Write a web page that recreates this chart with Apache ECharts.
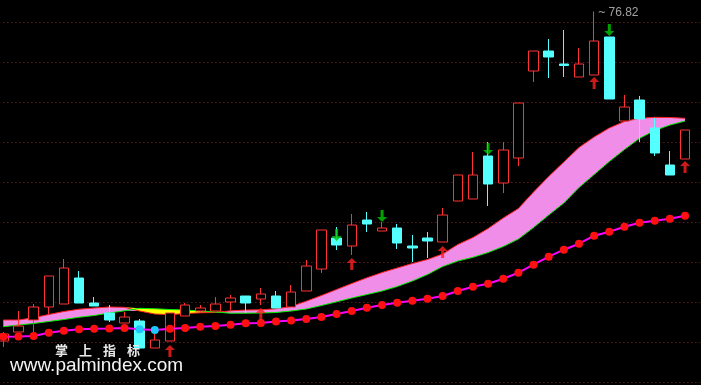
<!DOCTYPE html>
<html><head><meta charset="utf-8">
<script src="https://cdn.jsdelivr.net/npm/echarts@6/dist/echarts.min.js"></script>
<style>html,body{margin:0;padding:0;background:#000;}#c{width:701px;height:385px;}</style>
</head><body><div id="c"></div>
<script>
const categories = ['1','2','3','4','5','6','7','8','9','10','11','12','13','14','15','16','17','18','19','20','21','22','23','24','25','26','27','28','29','30','31','32','33','34','35','36','37','38','39','40','41','42','43','44','45','46','47'];
const openPrices  = [43.87,44.77,45.97,47.27,47.57,50.17,47.67,46.67,45.67,45.87,43.17,43.87,46.37,46.87,46.87,47.77,48.37,48.07,48.37,47.27,48.87,51.07,54.17,53.37,55.97,54.87,55.17,53.37,54.17,53.77,57.87,58.07,62.37,59.67,62.17,70.87,72.87,71.57,70.27,70.47,74.27,65.87,67.97,65.17,61.47,62.07];
const closePrices = [44.57,45.37,47.27,50.37,51.17,47.67,47.37,45.97,46.27,43.17,43.97,46.67,47.47,47.17,47.57,48.17,47.67,48.57,47.17,48.77,51.37,54.97,53.47,55.47,55.57,55.17,53.67,53.17,53.87,56.47,60.47,60.47,59.57,62.97,67.67,72.87,72.27,71.42,71.57,73.87,68.07,67.27,66.07,62.67,60.47,64.97];
const lowPrices   = [43.27,44.77,44.77,46.57,47.57,47.67,47.37,45.77,45.67,43.17,43.17,43.87,46.37,46.67,46.87,46.97,46.67,47.47,47.17,47.27,48.87,50.67,52.97,52.47,54.77,54.87,53.07,51.77,52.17,53.77,57.87,58.07,57.37,58.67,61.37,69.77,70.17,70.27,70.27,70.47,68.07,65.87,63.77,62.37,60.47,62.07];
const highPrices  = [44.77,46.87,47.57,50.37,52.07,50.87,48.27,47.47,46.77,46.07,44.57,46.67,47.67,47.47,48.27,48.47,48.37,49.17,48.87,49.47,51.97,54.97,55.27,56.57,56.77,55.77,55.57,54.47,54.77,57.17,60.47,62.77,63.77,63.77,67.67,72.87,74.07,74.97,73.17,76.82,74.27,68.47,68.37,66.17,62.87,64.97];
// band lines (A = red edge, B = green edge)
const lineA = [45.97,45.97,46.20,46.52,46.82,47.05,47.17,47.27,47.24,46.87,46.57,46.50,46.62,46.69,46.72,46.89,46.97,46.99,47.09,47.32,47.85,48.42,49.02,49.62,50.19,50.72,51.17,51.62,52.02,52.57,53.52,54.22,55.12,56.17,57.12,58.77,60.32,61.77,63.22,64.27,65.17,65.82,66.14,66.24,66.22,66.14];
const lineB = [45.30,45.47,45.62,45.82,46.02,46.25,46.42,46.67,46.89,47.14,47.09,47.02,46.97,46.87,46.77,46.65,46.65,46.67,46.72,46.87,47.07,47.42,47.79,48.17,48.52,48.87,49.32,49.87,50.52,51.32,51.87,52.24,52.72,53.32,54.07,55.22,56.47,57.67,59.22,60.52,61.82,63.02,64.14,64.92,65.47,65.87];
// slow dotted line
const slowLine = [44.30,44.31,44.37,44.70,44.90,45.04,45.10,45.11,45.17,45.04,44.97,45.10,45.17,45.30,45.37,45.50,45.64,45.67,45.82,45.92,46.07,46.27,46.57,46.87,47.20,47.47,47.70,47.90,48.10,48.37,48.87,49.30,49.60,50.10,50.70,51.50,52.30,53.00,53.60,54.40,54.80,55.30,55.70,55.90,56.10,56.40];
const upArrowIndex = [11,17,23,29,39,45];
const upArrowTip = [43.47,47.17,52.17,53.37,70.27,61.87];
const downArrowIndex = [22,25,32,40];
const downArrowTip = [53.87,55.77,62.47,74.37];
const gridLevels = [75.72,71.72,67.72,63.72,59.72,55.72,51.72,47.72,43.72,39.72];
const highLabelIndex = 39;
const highLabelValue = 76.82;
const watermarkChars = ['掌','上','指','标'];

const candleData = openPrices.map((o,i)=>[o, closePrices[i], lowPrices[i], highPrices[i]]);
const bandBase = lineA.map((a,i)=>Math.min(a, lineB[i]));
const bandPink = lineA.map((a,i)=>Math.max(a - lineB[i], 0));
const bandYellow = lineA.map((a,i)=>Math.max(lineB[i] - a, 0));
const slowData = slowLine.map((v,i)=>({value: v, itemStyle: {color: (i>0 && v < slowLine[i-1]) ? '#1ec8ff' : '#ff1010'}}));
const upData = upArrowIndex.map((x,i)=>[x, upArrowTip[i]]);
const downData = downArrowIndex.map((x,i)=>[x, downArrowTip[i]]);

const upPath = 'path://M5 0 L10 5 L6.5 5 L6.5 12 L3.5 12 L3.5 5 L0 5 Z';
const downPath = 'path://M3.5 0 L6.5 0 L6.5 7 L10 7 L5 12 L0 7 L3.5 7 Z';

const graphics = watermarkChars.map((ch,i)=>({type:'text', left: 55 + i*24, top: 344, z: 100,
  style:{text: ch, font:'bold 13px "Noto Sans CJK SC"', fill:'#e8e8e8'}}));
graphics.push({type:'text', left: 10, top: 356, z: 100, style:{text:'www.palmindex.com', font:'19px "Liberation Sans", Arial', fill:'#f4f4f4'}});

const chart = echarts.init(document.getElementById('c'), null, {renderer:'canvas'});
chart.setOption({
  backgroundColor: '#000',
  animation: false,
  grid: {left: 3.3, right: 0.8, top: 0, bottom: 0},
  xAxis: {type:'category', data: categories, boundaryGap: false, show: false},
  yAxis: {type:'value', min: 39.47, max: 77.97, show: false, splitLine:{show:false}},
  graphic: graphics,
  series: [
    {type:'line', name:'base', data: bandBase, stack:'band', symbol:'none', lineStyle:{opacity:0}, z:2,
     markLine:{silent:true, z:1, symbol:['none','none'], label:{show:false}, lineStyle:{color:'#a81818', type:[1,3], width:1}, data: gridLevels.map(v=>({yAxis:v}))}},
    {type:'line', name:'pink', data: bandPink, stack:'band', symbol:'none', lineStyle:{opacity:0}, areaStyle:{color:'#f08de8', opacity:1}, z:2},
    {type:'line', name:'yellow', data: bandYellow, stack:'band', symbol:'none', lineStyle:{opacity:0}, areaStyle:{color:'#ffff00', opacity:1}, z:2},
    {type:'line', name:'A', data: lineA, symbol:'none', lineStyle:{color:'#ff2020', width:1}, z:3},
    {type:'line', name:'B', data: lineB, symbol:'none', lineStyle:{color:'#00ee00', width:1}, z:3},
    {type:'candlestick', data: candleData, barWidth: 10, clip:false, z:4,
     itemStyle:{color:'#000', borderColor:'#ff3333', color0:'#54ffff', borderColor0:'#54ffff', borderWidth:1}},
    {type:'line', name:'slow', data: slowData, symbol:'circle', symbolSize:8, showAllSymbol:true, lineStyle:{color:'#ff00ff', width:2}, z:5},
    {type:'scatter', data: upData, symbol: upPath, symbolSize:[10,12], symbolOffset:[0,6], itemStyle:{color:'#ff2020'}, z:6},
    {type:'scatter', data: downData, symbol: downPath, symbolSize:[10,12], symbolOffset:[0,-6], itemStyle:{color:'#00c800'}, z:6},
    {type:'scatter', data: [[highLabelIndex, highLabelValue]], symbol:'circle', symbolSize:2, itemStyle:{color:'rgba(0,0,0,0)'}, z:7,
     label:{show:true, position:'right', distance:1, offset:[2,1], formatter:'~ '+highLabelValue.toFixed(2), color:'#c8c8c8', fontSize:12, fontFamily:'"Liberation Sans", Arial'}}
  ]
});
</script></body></html>
